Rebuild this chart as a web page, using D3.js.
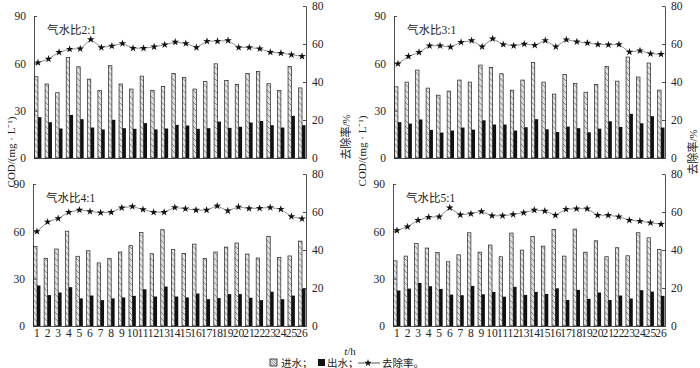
<!DOCTYPE html>
<html>
<head>
<meta charset="utf-8">
<script src="https://cdn.jsdelivr.net/npm/d3@7"></script>
<style>
  body { margin: 0; background: #fff; }
  svg { display: block; }
  text { font-family: "Liberation Serif", "Noto Sans CJK SC", serif; fill: #222; }
</style>
</head>
<body>
<div id="chart"></div>
<script>
// hours (x categories)
const hours = ["1","2","3","4","5","6","7","8","9","10","11","12","13","14","15","16","17","18","19","20","21","22","23","24","25","26"];

// gas-water ratio 2:1
const influent2 = [51.5,46.9,41.4,63.7,57.8,50.0,42.7,58.5,46.9,43.7,51.9,42.9,45.4,53.6,51.1,43.7,48.4,59.7,49.2,46.5,53.6,54.9,47.1,42.7,58.0,44.4];
const effluent2 = [25.9,22.7,18.7,27.3,24.6,19.3,18.1,24.2,18.9,18.5,22.1,18.1,18.7,21.0,20.6,18.5,18.9,23.1,19.1,19.8,22.5,23.5,20.8,19.3,26.7,20.8];
const removal2  = [50.2,52.1,55.7,57.3,57.5,62.4,58.2,58.9,60.3,57.8,57.8,58.5,59.6,61.0,60.3,58.2,61.5,61.5,61.8,58.2,58.2,57.5,55.7,55.2,54.4,53.5];

// gas-water ratio 3:1
const influent3 = [45.1,48.1,55.7,44.3,39.8,42.4,49.4,48.1,58.9,57.4,53.4,43.0,49.4,60.6,48.1,40.5,53.0,47.2,41.7,46.6,58.1,48.7,64.0,51.3,60.2,43.0];
const effluent3 = [22.7,21.8,24.4,17.8,16.1,17.4,19.3,18.0,23.9,21.2,21.2,17.4,19.5,24.6,18.2,16.5,19.9,18.9,16.3,18.6,23.3,19.7,28.0,22.0,26.5,19.3];
const removal3  = [49.6,53.5,55.6,59.1,59.1,58.4,60.9,61.8,58.6,62.8,59.8,59.1,60.0,59.3,61.9,58.6,62.3,61.2,60.5,59.8,59.6,59.8,55.8,56.5,54.9,54.6];

// gas-water ratio 4:1
const influent4 = [50.5,42.9,48.8,60.1,44.2,47.7,40.0,42.9,46.9,50.9,59.3,45.8,61.0,48.4,46.0,51.9,42.7,46.9,50.0,52.6,45.6,43.1,56.8,43.5,44.4,53.8];
const effluent4 = [25.7,19.6,21.2,24.6,17.5,19.3,16.4,17.5,18.1,19.1,23.3,18.7,25.0,18.7,18.1,20.6,17.0,17.7,20.2,20.2,17.9,16.4,21.7,17.0,19.3,23.8];
const removal4  = [49.8,54.8,56.6,59.9,61.1,60.3,59.6,59.9,62.2,62.9,61.3,59.9,59.9,62.4,61.7,61.0,61.0,63.2,60.6,62.7,61.8,62.0,62.4,61.5,57.6,56.4];

// gas-water ratio 5:1
const influent5 = [41.3,44.3,52.3,49.4,46.6,40.7,45.1,59.1,46.8,51.3,43.9,58.9,48.1,56.8,50.6,61.2,44.3,61.4,46.8,54.0,43.9,49.6,44.5,59.1,55.9,48.5];
const effluent5 = [22.5,23.7,27.3,25.2,23.5,19.9,19.5,25.4,20.1,21.6,18.6,24.8,19.7,21.6,20.3,23.9,16.5,22.9,17.2,21.2,16.5,19.3,17.4,22.7,21.8,19.1];
const removal5  = [50.3,52.2,55.7,57.3,57.5,62.2,58.5,59.1,60.3,58.0,58.0,58.7,59.6,61.0,60.5,58.3,61.5,61.7,61.7,58.3,58.3,57.5,55.7,55.2,54.3,53.6];

const codTicks = [0, 30, 60, 90];
const rateTicks = [0, 20, 40, 60, 80];
const titles = ["气水比2:1", "气水比3:1", "气水比4:1", "气水比5:1"];

const width = 700, height = 368;
const svg = d3.select("#chart").append("svg")
    .attr("width", width)
    .attr("height", height);

// hatch pattern for influent bars
const defs = svg.append("defs");
const pat = defs.append("pattern")
    .attr("id", "hatch")
    .attr("patternUnits", "userSpaceOnUse")
    .attr("width", 6).attr("height", 6);
pat.append("rect").attr("width", 6).attr("height", 6).attr("fill", "#e4e4e4");
pat.append("path").attr("d", "M0,0L6,6M-1,5L1,7M5,-1L7,1")
    .attr("stroke", "#444").attr("stroke-width", 0.6);

const pat2 = defs.append("pattern")
    .attr("id", "hatchLegend")
    .attr("patternUnits", "userSpaceOnUse")
    .attr("width", 2.5).attr("height", 2.5);
pat2.append("rect").attr("width", 2.5).attr("height", 2.5).attr("fill", "#fff");
pat2.append("path").attr("d", "M0,0L2.5,2.5M-1,1.5L1,3.5M1.5,-1L3.5,1")
    .attr("stroke", "#222").attr("stroke-width", 0.6);

const panels = [
  { title: titles[0], inflow: influent2, outflow: effluent2, rate: removal2, left: 34, right: 306, top: 6, labels: false },
  { title: titles[1], inflow: influent3, outflow: effluent3, rate: removal3, left: 394, right: 665, top: 6, labels: false },
  { title: titles[2], inflow: influent4, outflow: effluent4, rate: removal4, left: 33, right: 306, top: 174, labels: true },
  { title: titles[3], inflow: influent5, outflow: effluent5, rate: removal5, left: 393, right: 665, top: 174, labels: true }
];

const star = d3.symbol().type(d3.symbolStar).size(18);

panels.forEach(p => {
  const bottom = p.top + 152;
  const g = svg.append("g");

  const x = d3.scaleBand().domain(hours).range([p.left, p.right])
      .paddingInner(0.35).paddingOuter(0.05);
  const xs = d3.scaleBand().domain(["in", "out"]).range([0, x.bandwidth()]);
  const yL = d3.scaleLinear().domain([0, 90]).range([bottom, bottom - 142]);
  const yR = d3.scaleLinear().domain([0, 80]).range([bottom, p.top]);

  // bars
  const grp = g.selectAll(".grp").data(hours).join("g")
      .attr("transform", d => `translate(${x(d)},0)`);
  grp.append("rect")
      .attr("x", xs("in"))
      .attr("width", xs.bandwidth())
      .attr("y", (d, i) => yL(p.inflow[i]))
      .attr("height", (d, i) => bottom - yL(p.inflow[i]))
      .attr("fill", "url(#hatch)")
      .attr("stroke", "#222")
      .attr("stroke-width", 0.7);
  grp.append("rect")
      .attr("x", xs("out"))
      .attr("width", xs.bandwidth())
      .attr("y", (d, i) => yL(p.outflow[i]))
      .attr("height", (d, i) => bottom - yL(p.outflow[i]))
      .attr("fill", "#111");

  // removal rate line
  const cx = d => x(d) + x.bandwidth() / 2;
  const line = d3.line()
      .x((d, i) => cx(hours[i]))
      .y(d => yR(d));
  g.append("path")
      .attr("d", line(p.rate))
      .attr("fill", "none")
      .attr("stroke", "#777")
      .attr("stroke-width", 0.8);
  g.selectAll(".star").data(p.rate).join("path")
      .attr("d", star)
      .attr("transform", (d, i) => `translate(${cx(hours[i])},${yR(d)})`)
      .attr("fill", "#111");

  // axes
  const axL = g.append("g")
      .attr("transform", `translate(${p.left},0)`)
      .call(d3.axisLeft(yL).tickValues(codTicks).tickSizeInner(-3).tickSizeOuter(0).tickPadding(8));
  const axR = g.append("g")
      .attr("transform", `translate(${p.right},0)`)
      .call(d3.axisRight(yR).tickValues(rateTicks).tickSizeInner(-3).tickSizeOuter(0).tickPadding(6));
  const axB = g.append("g")
      .attr("transform", `translate(0,${bottom})`)
      .call(d3.axisBottom(x).tickSize(0).tickPadding(3));
  [axL, axR, axB].forEach(a => {
    a.selectAll("path, line").attr("stroke", "#222").attr("stroke-width", 0.8);
    a.selectAll("text").style("font-size", "11.5px").attr("fill", "#222")
        .style("font-family", "Liberation Serif, serif");
  });
  if (!p.labels) axB.selectAll(".tick text").remove();

  // panel title
  g.append("text")
      .attr("x", p.left + 13)
      .attr("y", p.top + 28)
      .style("font-size", "11.5px")
      .text(p.title);
});

// shared axis titles
function vTitle(xPos, yPos, txt) {
  svg.append("text")
      .attr("transform", `translate(${xPos},${yPos}) rotate(-90)`)
      .attr("text-anchor", "middle")
      .style("font-size", "11px")
      .text(txt);
}
vTitle(15, 152, "COD/(mg · L⁻¹)");
vTitle(366, 151, "COD/(mg · L⁻¹)");
vTitle(350, 137, "去除率/%");
vTitle(697, 152, "去除率/%");

svg.append("text")
    .attr("x", 350).attr("y", 355)
    .attr("text-anchor", "middle")
    .style("font-size", "11px")
    .html('<tspan font-style="italic">t</tspan>/h');

// legend
const lg = svg.append("g").attr("transform", "translate(270,363)");
const lfs = "10.5px";
lg.append("rect").attr("x", 0).attr("y", -4).attr("width", 7).attr("height", 7)
    .attr("fill", "url(#hatchLegend)").attr("stroke", "#222").attr("stroke-width", 0.8);
lg.append("text").attr("x", 11).attr("y", 3.5).style("font-size", lfs).text("进水；");
lg.append("rect").attr("x", 48).attr("y", -4).attr("width", 7).attr("height", 7).attr("fill", "#111");
lg.append("text").attr("x", 57).attr("y", 3.5).style("font-size", lfs).text("出水；");
lg.append("line").attr("x1", 88).attr("x2", 110).attr("y1", 0).attr("y2", 0)
    .attr("stroke", "#333").attr("stroke-width", 0.8);
lg.append("path").attr("d", star).attr("transform", "translate(98,0)").attr("fill", "#111");
lg.append("text").attr("x", 112).attr("y", 3.5).style("font-size", lfs).text("去除率。");
</script>
</body>
</html>
